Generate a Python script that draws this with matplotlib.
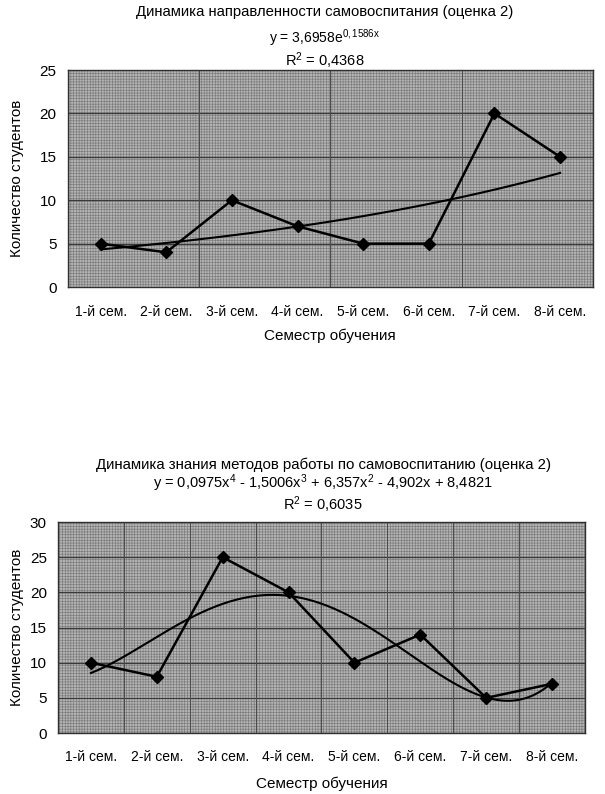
import numpy as np
import matplotlib
matplotlib.use("Agg")
import matplotlib.pyplot as plt

plt.rcParams['font.family'] = ['Liberation Sans', 'DejaVu Sans']
plt.rcParams['hatch.linewidth'] = 0.45
plt.rcParams['mathtext.fontset'] = 'custom'
plt.rcParams['mathtext.rm'] = 'Liberation Sans'
plt.rcParams['mathtext.it'] = 'Liberation Sans'

categories = ["1-й сем.", "2-й сем.", "3-й сем.", "4-й сем.",
              "5-й сем.", "6-й сем.", "7-й сем.", "8-й сем."]
values_top = [5, 4, 10, 7, 5, 5, 20, 15]
values_bottom = [10, 8, 25, 20, 10, 14, 5, 7]

title_top = "Динамика направленности самовоспитания (оценка 2)"
eq_top = r"y = 3,6958e$^{0,1586x}$"
r2_top = r"R$^2$ = 0,4368"
title_bottom = "Динамика знания методов работы по самовоспитанию (оценка 2)"
eq_bottom = r"y = 0,0975x$^4$ - 1,5006x$^3$ + 6,357x$^2$ - 4,902x + 8,4821"
r2_bottom = r"R$^2$ = 0,6035"

exp_coef = (3.6958, 0.1586)
poly_coef = [0.0975, -1.5006, 6.357, -4.902, 8.4821]

fig = plt.figure(figsize=(6.05, 7.94), dpi=100)

def style_axes(ax, ymax, vlines, ylabelpad, xpad, xlabelpad):
    ax.set_facecolor('#b4b4b4')
    ax.patch.set_hatch('++++++')
    ax.patch.set_edgecolor('#7a7a7a')
    ax.set_xlim(0.5, 8.5)
    ax.set_ylim(0, ymax)
    ax.set_yticks(np.arange(0, ymax + 1, 5))
    ax.set_xticks(np.arange(1, 9))
    ax.set_xticklabels(categories, fontsize=10)
    ax.tick_params(axis='y', labelsize=11, length=0, pad=8)
    ax.tick_params(axis='x', length=0, pad=xpad)
    for y in np.arange(5, ymax, 5):
        ax.axhline(y, color='#3a3a3a', lw=0.9, zorder=1)
    for x in vlines:
        ax.axvline(x, color='#4a4a4a', lw=0.7, zorder=1)
    for s in ax.spines.values():
        s.set_color('#303030')
        s.set_linewidth(1.0)
    ax.set_ylabel("Количество студентов", fontsize=11, labelpad=ylabelpad)
    ax.set_xlabel("Семестр обучения", fontsize=11, labelpad=xlabelpad)

x = np.arange(1, 9)
xs = np.linspace(1, 8, 200)

# Top chart
ax1 = fig.add_axes([0.112, 0.6385, 0.868, 0.2733])
style_axes(ax1, 25, [2.5, 4.5, 6.5], 11, 13, 7)
ax1.plot(xs, exp_coef[0] * np.exp(exp_coef[1] * xs), color='black', lw=1.5, zorder=3)
ax1.plot(x, values_top, color='black', lw=1.8, marker='D', markersize=6.5, zorder=4)
fig.text(0.537, 0.985, title_top, ha='center', va='center', fontsize=10.7)
fig.text(0.537, 0.952, eq_top, ha='center', va='center', fontsize=10)
fig.text(0.537, 0.924, r2_top, ha='center', va='center', fontsize=10.5)

# Bottom chart
ax2 = fig.add_axes([0.0959, 0.0768, 0.871, 0.2657])
style_axes(ax2, 30, [1.5, 2.5, 3.5, 4.5, 5.5, 6.5, 7.5], 4, 12, 9)
ax2.plot(xs, np.polyval(poly_coef, xs), color='black', lw=1.5, zorder=3)
ax2.plot(x, values_bottom, color='black', lw=1.8, marker='D', markersize=6.5, zorder=4)
fig.text(0.534, 0.414, title_bottom, ha='center', va='center', fontsize=10.8)
fig.text(0.534, 0.391, eq_bottom, ha='center', va='center', fontsize=10.5)
fig.text(0.534, 0.364, r2_bottom, ha='center', va='center', fontsize=10.5)

fig.savefig("out.png", dpi=100)
